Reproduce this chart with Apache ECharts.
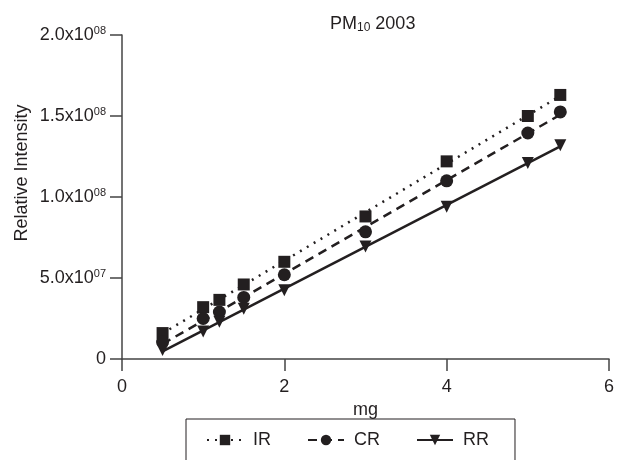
<!DOCTYPE html>
<html>
<head>
<meta charset="utf-8">
<script src="https://cdn.jsdelivr.net/npm/echarts@6/dist/echarts.min.js"></script>
<style>
html, body { margin: 0; padding: 0; background: #fff; }
#main { width: 617px; height: 460px; }
</style>
</head>
<body>
<div id="main"></div>
<script>
var mass = [0.5, 1, 1.2, 1.5, 2, 3, 4, 5, 5.4];
var irData = [1.6e7, 3.2e7, 3.65e7, 4.6e7, 6.0e7, 8.8e7, 1.22e8, 1.5e8, 1.63e8];
var crData = [1.05e7, 2.5e7, 2.9e7, 3.8e7, 5.2e7, 7.85e7, 1.1e8, 1.395e8, 1.525e8];
var rrData = [0.55e7, 1.7e7, 2.3e7, 3.1e7, 4.25e7, 6.95e7, 9.4e7, 1.21e8, 1.32e8];
var yTicks = { 0: '{n|0}', 50000000: '{n|5.0x10}{s|07}', 100000000: '{n|1.0x10}{s|08}', 150000000: '{n|1.5x10}{s|08}', 200000000: '{n|2.0x10}{s|08}' };

var dom = document.getElementById('main');
var myChart = echarts.init(dom);

// least squares line over the points
function fitLine(xs, ys) {
	var n = xs.length, sx = 0, sy = 0, sxx = 0, sxy = 0;
	for (var i = 0; i < n; i++) {
		sx += xs[i]; sy += ys[i];
		sxx += xs[i] * xs[i]; sxy += xs[i] * ys[i];
	}
	var b = (n * sxy - sx * sy) / (n * sxx - sx * sx);
	var a = (sy - b * sx) / n;
	var x0 = xs[0], x1 = xs[n - 1];
	return [[x0, a + b * x0], [x1, a + b * x1]];
}
function pairs(xs, ys) {
	return xs.map(function (x, i) { return [x, ys[i]]; });
}

var font = 'Liberation Sans, Arial, sans-serif';
var ink = '#231f20';
var downTri = 'path://M0,0 L10,0 L5,9 Z';

function groupSeries(name, ys, symbol, size, lineType) {
	return [{
		name: name,
		type: 'line',
		data: fitLine(mass, ys),
		symbol: symbol,
		symbolSize: size,
		showSymbol: false,
		itemStyle: { color: ink },
		lineStyle: { color: ink, width: 2.5, type: lineType },
		silent: true,
		z: 2
	}, {
		name: name,
		type: 'scatter',
		data: pairs(mass, ys),
		symbol: symbol,
		symbolSize: size,
		itemStyle: { color: ink, opacity: 1 },
		z: 3
	}];
}

var option = {
	animation: false,
	backgroundColor: '#fff',
	title: {
		text: '{n|PM}{sub|10}{n| 2003}',
		left: 325,
		top: 9,
		textStyle: {
			rich: {
				n: { fontFamily: font, fontSize: 18, fontWeight: 'normal', lineHeight: 20, color: ink },
				sub: { fontFamily: font, fontSize: 12, fontWeight: 'normal', lineHeight: 11, verticalAlign: 'bottom', color: ink }
			}
		}
	},
	grid: { left: 122, right: 4, top: 35, bottom: 101 },
	legend: {
		data: ['IR', 'CR', 'RR'],
		left: 186,
		top: 419,
		padding: [12, 26, 30, 20],
		itemGap: 36,
		itemWidth: 36,
		itemHeight: 13,
		borderColor: ink,
		borderWidth: 1,
		textStyle: { fontFamily: font, fontSize: 18, color: ink, padding: [0, 0, 0, 5] }
	},
	xAxis: {
		type: 'value',
		min: 0, max: 6, interval: 2,
		name: 'mg',
		nameLocation: 'middle',
		nameGap: 25,
		nameTextStyle: { fontFamily: font, fontSize: 18, color: ink },
		axisLine: { lineStyle: { color: '#444', width: 1.5 } },
		axisTick: { inside: false, length: 12, lineStyle: { color: '#444', width: 1.5 } },
		axisLabel: { fontFamily: font, fontSize: 18, color: ink, margin: 19 },
		splitLine: { show: false }
	},
	yAxis: {
		type: 'value',
		min: 0, max: 2e8, interval: 5e7,
		axisLine: { show: true, lineStyle: { color: '#444', width: 1.5 } },
		axisTick: { show: true, inside: false, length: 12, lineStyle: { color: '#444', width: 1.5 } },
		axisLabel: {
			margin: 16,
			formatter: function (v) { return yTicks[v]; },
			rich: {
				n: { fontFamily: font, fontSize: 18, lineHeight: 20, color: ink },
				s: { fontFamily: font, fontSize: 11, lineHeight: 11, verticalAlign: 'top', color: ink }
			}
		},
		splitLine: { show: false }
	},
	graphic: [{
		type: 'text',
		x: 13,
		y: 173,
		rotation: Math.PI / 2,
		style: {
			text: 'Relative Intensity',
			fontFamily: font, fontSize: 18, fill: ink,
			align: 'center', verticalAlign: 'top'
		}
	}],
	series: [].concat(
		groupSeries('IR', irData, 'rect', 12, [2, 6]),
		groupSeries('CR', crData, 'circle', 13, [9, 6]),
		groupSeries('RR', rrData, downTri, 12, 'solid')
	)
};

myChart.setOption(option);
</script>
</body>
</html>
